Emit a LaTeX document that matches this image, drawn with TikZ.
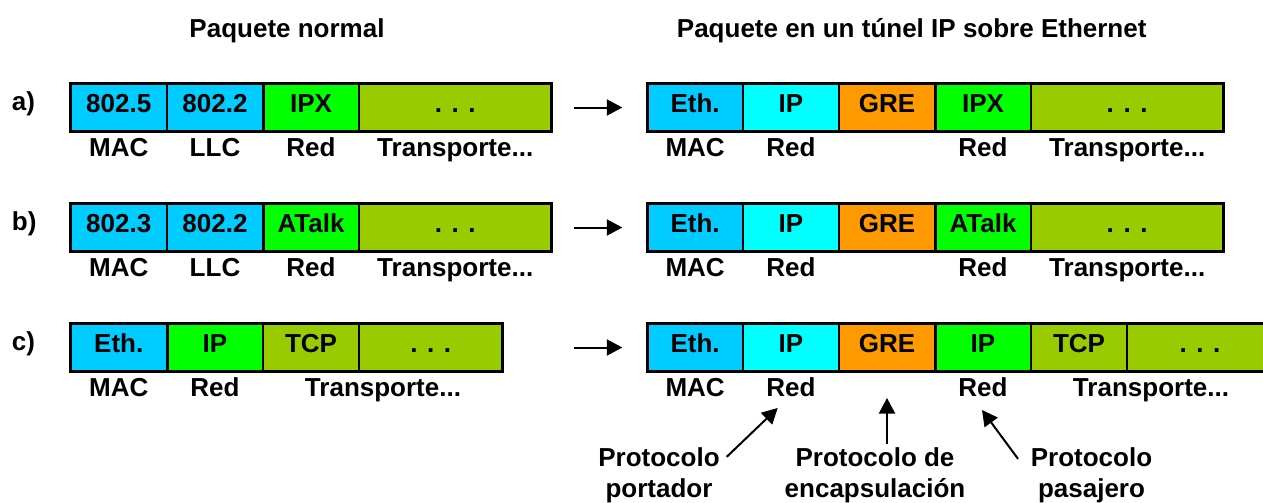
\documentclass[tikz,border=0pt]{standalone}
\usepackage{fontspec}
\setmainfont{Liberation Sans}
\usetikzlibrary{arrows.meta}
\definecolor{cMac}{HTML}{00CCFF}
\definecolor{cIPc}{HTML}{00FFFF}
\definecolor{cGreen}{HTML}{00FF00}
\definecolor{cOlive}{HTML}{99CC00}
\definecolor{cOrange}{HTML}{FF9900}
\begin{document}
\begin{tikzpicture}[x=1pt,y=-1pt,
  every node/.style={font=\fontsize{26}{31}\selectfont\bfseries, inner sep=0pt, outer sep=0pt},
  cell/.style={draw=black, line width=1.3pt, minimum height=48pt, text height=9pt, text depth=0pt},
  lbl/.style={anchor=base},
  rowlbl/.style={anchor=base west},
  frame/.style={draw=black, line width=3.3pt},
  thickdiv/.style={draw=black, line width=3pt},
  meddiv/.style={draw=black, line width=2pt},
  arr/.style={-{Triangle[length=15.5pt,width=16pt]}, line width=2pt},
]
\useasboundingbox (0,0) rectangle (1263,503);
\clip (0,0) rectangle (1263,503);

% titles
\node[lbl] (t1) at (287,37.5) {Paquete normal};
\node[lbl] (t2) at (911.7,37.5) {Paquete en un túnel IP sobre Ethernet};

% row labels
\node[rowlbl] (ra) at (12,110) {a)};
\node[rowlbl] (rb) at (12,230) {b)};
\node[rowlbl] (rc) at (12,350) {c)};

% ---------- row a, left ----------
\node[cell, fill=cMac,   minimum width=96.5pt]  (a1) at (118.75,107.5) {802.5};
\node[cell, fill=cMac,   minimum width=96pt]    (a2) at (215,107.5) {802.2};
\node[cell, fill=cGreen, minimum width=96pt]    (a3) at (311,107.5) {IPX};
\node[cell, fill=cOlive, minimum width=192.5pt] (a4) at (455.25,107.5) {. . .};
\draw[frame] (a1.north west) rectangle (a4.south east);
\draw[thickdiv] (a2.north east) -- (a2.south east);
\draw[meddiv] (a3.north east) -- (a3.south east);
\node[lbl] (al1) at (118.75,156.5) {MAC};
\node[lbl] (al2) at (215,156.5) {LLC};
\node[lbl] (al3) at (311,156.5) {Red};
\node[lbl] (al4) at (455.25,156.5) {Transporte...};

% ---------- row a, right ----------
\node[cell, fill=cMac,    minimum width=95.7pt]  (ar1) at (695.15,107.5) {Eth.};
\node[cell, fill=cIPc,    minimum width=96pt]    (ar2) at (791,107.5) {IP};
\node[cell, fill=cOrange, minimum width=96pt]    (ar3) at (887,107.5) {GRE};
\node[cell, fill=cGreen,  minimum width=96pt]    (ar4) at (983,107.5) {IPX};
\node[cell, fill=cOlive,  minimum width=192.4pt] (ar5) at (1127.2,107.5) {. . .};
\draw[frame] (ar1.north west) rectangle (ar5.south east);
\draw[thickdiv] (ar3.north east) -- (ar3.south east);
\draw[meddiv] (ar4.north east) -- (ar4.south east);
\node[lbl] (arl1) at (695.15,156.5) {MAC};
\node[lbl] (arl2) at (791,156.5) {Red};
\node[lbl] (arl4) at (983,156.5) {Red};
\node[lbl] (arl5) at (1127.2,156.5) {Transporte...};
\draw[arr, shorten <=22.5pt, shorten >=25pt] (a4.east) -- (ar1.west);

% ---------- row b, left ----------
\node[cell, fill=cMac,   minimum width=96.5pt]  (b1) at (118.75,227.5) {802.3};
\node[cell, fill=cMac,   minimum width=96pt]    (b2) at (215,227.5) {802.2};
\node[cell, fill=cGreen, minimum width=96pt]    (b3) at (311,227.5) {ATalk};
\node[cell, fill=cOlive, minimum width=192.5pt] (b4) at (455.25,227.5) {. . .};
\draw[frame] (b1.north west) rectangle (b4.south east);
\draw[thickdiv] (b2.north east) -- (b2.south east);
\draw[meddiv] (b3.north east) -- (b3.south east);
\node[lbl] (bl1) at (118.75,276.5) {MAC};
\node[lbl] (bl2) at (215,276.5) {LLC};
\node[lbl] (bl3) at (311,276.5) {Red};
\node[lbl] (bl4) at (455.25,276.5) {Transporte...};

% ---------- row b, right ----------
\node[cell, fill=cMac,    minimum width=95.7pt]  (br1) at (695.15,227.5) {Eth.};
\node[cell, fill=cIPc,    minimum width=96pt]    (br2) at (791,227.5) {IP};
\node[cell, fill=cOrange, minimum width=96pt]    (br3) at (887,227.5) {GRE};
\node[cell, fill=cGreen,  minimum width=96pt]    (br4) at (983,227.5) {ATalk};
\node[cell, fill=cOlive,  minimum width=192.4pt] (br5) at (1127.2,227.5) {. . .};
\draw[frame] (br1.north west) rectangle (br5.south east);
\draw[thickdiv] (br3.north east) -- (br3.south east);
\draw[meddiv] (br4.north east) -- (br4.south east);
\node[lbl] (brl1) at (695.15,276.5) {MAC};
\node[lbl] (brl2) at (791,276.5) {Red};
\node[lbl] (brl4) at (983,276.5) {Red};
\node[lbl] (brl5) at (1127.2,276.5) {Transporte...};
\draw[arr, shorten <=22.5pt, shorten >=25pt] (b4.east) -- (br1.west);

% ---------- row c, left ----------
\node[cell, fill=cMac,   minimum width=96.5pt]  (c1) at (118.75,347.5) {Eth.};
\node[cell, fill=cGreen, minimum width=96pt]    (c2) at (215,347.5) {IP};
\node[cell, fill=cOlive, minimum width=96pt]    (c3) at (311,347.5) {TCP};
\node[cell, fill=cOlive, minimum width=143.5pt] (c4) at (430.75,347.5) {. . .};
\draw[frame] (c1.north west) rectangle (c4.south east);
\draw[thickdiv] (c1.north east) -- (c1.south east);
\draw[meddiv] (c3.north east) -- (c3.south east);
\node[lbl] (cl1) at (118.75,396.5) {MAC};
\node[lbl] (cl2) at (215,396.5) {Red};
\node[lbl] (cl3) at (383,396.5) {Transporte...};

% ---------- row c, right ----------
\node[cell, fill=cMac,    minimum width=95.7pt] (cr1) at (695.15,347.5) {Eth.};
\node[cell, fill=cIPc,    minimum width=96pt]   (cr2) at (791,347.5) {IP};
\node[cell, fill=cOrange, minimum width=96pt]   (cr3) at (887,347.5) {GRE};
\node[cell, fill=cGreen,  minimum width=96pt]   (cr4) at (983,347.5) {IP};
\node[cell, fill=cOlive,  minimum width=96pt]   (cr5) at (1079,347.5) {TCP};
\node[cell, fill=cOlive,  minimum width=146pt]  (cr6) at (1200,347.5) {. . .};
\draw[frame] (cr1.north west) rectangle (cr6.south east);
\draw[thickdiv] (cr3.north east) -- (cr3.south east);
\node[lbl] (crl1) at (695.15,396.5) {MAC};
\node[lbl] (crl2) at (791,396.5) {Red};
\node[lbl] (crl4) at (983,396.5) {Red};
\node[lbl] (crl5) at (1151,396.5) {Transporte...};
\draw[arr, shorten <=71.5pt, shorten >=25pt] (c4.east) -- (cr1.west);

% ---------- annotations ----------
\node[align=center] (pport) at (659,475) {Protocolo\\portador};
\node[align=center] (penc) at (875,475) {Protocolo de\\encapsulación};
\node[align=center] (ppas) at (1091.5,475) {Protocolo\\pasajero};
\draw[arr] ([shift={(7,9.5)}]pport.north east) -- ([shift={(-13.3,11.5)}]crl2.base);
\draw[arr] ([shift={(12,-3.5)}]penc.north) -- ([shift={(0,26.5)}]cr3.south);
\draw[arr] ([shift={(-12.8,11.5)}]ppas.north west) -- ([shift={(-1,13.5)}]crl4.base);
\end{tikzpicture}
\end{document}
